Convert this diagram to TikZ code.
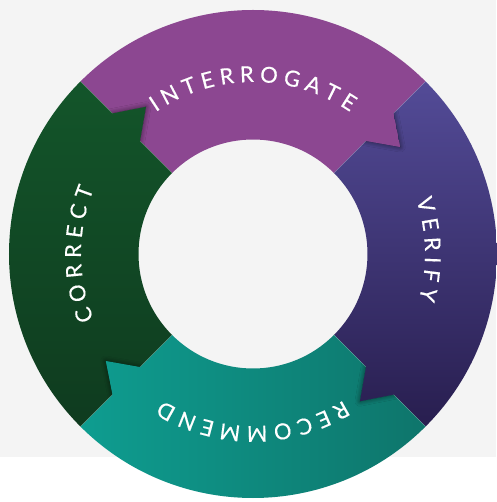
\documentclass[tikz,border=0pt]{standalone}
\usepackage{fontspec}
\newfontfamily\ringfont[FakeBold=0.4]{Lato}
\newcommand{\ringface}{\ringfont\fontsize{22}{24}\selectfont}
\usetikzlibrary{shadows.blur}
\usepackage{xcolor}

\definecolor{bggray}{HTML}{F4F4F4}
\definecolor{intcol}{HTML}{8C4791}
\definecolor{verlight}{HTML}{534B97}
\definecolor{verdark}{HTML}{281E4F}
\definecolor{reclight}{HTML}{0E9D90}
\definecolor{recdark}{HTML}{0E756B}
\definecolor{corlight}{HTML}{13552A}
\definecolor{cordark}{HTML}{0F3B1F}

% ring pieces: sector from angle #1 to #1+90, arrow head at angle #1
\newcommand{\sector}[1]{(#1:244) arc[start angle=#1, end angle=#1+90, radius=244]
  -- (#1+90:114.5) arc[start angle=#1+90, end angle=#1, radius=114.5] -- cycle}
\newcommand{\head}[1]{(#1+4:209) -- (#1+4.5:152) -- (#1-9:182) -- cycle}

% letters set clockwise round the ring, baseline at radius 172
\newdimen\letterwd
\newcommand{\track}{5.6}
\newcommand{\lw}[1]{\csname lw#1\endcsname}
\newcommand{\ringword}[3]{% #1 name, #2 middle angle, #3 letters
	\gdef\wordlen{0}
	\foreach \ch in {#3}{
		\pgfmathsetmacro{\tmplen}{\wordlen+\lw{\ch}+\track}
		\xdef\wordlen{\tmplen}}
	\pgfmathsetmacro{\tmpang}{#2+(\wordlen-\track)/2/172*180/pi}
	\xdef\wordang{\tmpang}
	\foreach \ch [count=\i] in {#3}{
		\pgfmathsetmacro{\letterang}{\wordang-(\lw{\ch}/2)/172*180/pi}
		\node[ringletter, rotate=\letterang-90] (#1\i) at (\letterang:172) {\ch};
		\pgfmathsetmacro{\tmpang}{\wordang-(\lw{\ch}+\track)/172*180/pi}
		\xdef\wordang{\tmpang}}
}

\tikzset{
  segint/.style={fill=intcol},
  segver/.style={top color=verlight, bottom color=verdark},
  segrec/.style={left color=reclight, right color=recdark},
  segcor/.style={top color=corlight, bottom color=cordark},
  headshadow/.style={blur shadow={shadow blur radius=5pt, shadow xshift=0pt,
      shadow yshift=0pt, shadow opacity=55, shadow blur steps=10}},
  ringletter/.style={anchor=base, inner sep=0pt, text=white, font=\ringface}
}

\begin{document}
\foreach \ch in {A,C,D,E,F,G,I,M,N,O,R,T,V,Y}{%
	\settowidth{\letterwd}{\ringface\ch}%
	\expandafter\xdef\csname lw\ch\endcsname{\the\letterwd}}%
\begin{tikzpicture}[x=1pt,y=1pt]
	\useasboundingbox (-253,-248) rectangle (243,254);
	\fill[white] (-253,-248) rectangle (243,254);
	\fill[bggray] (-253,-203) rectangle (243,254);
	
	\foreach \a/\seg in {45/segint,-45/segver,225/segrec,135/segcor}
	\path[\seg] \sector{\a};
	\foreach \a in {45,-45,225,135}
	\draw[white, opacity=.2, line width=.5pt] (\a:114.5) -- (\a:244);
	
	\foreach \a/\seg in {45/segint,-45/segver,225/segrec,135/segcor}{
		\begin{scope}
			\clip \sector{\a-90};
			\path[headshadow] \head{\a};
		\end{scope}
		\begin{scope}
			\clip \head{\a};
			\path[\seg] \sector{\a} (\a+4:209) -- (\a+4.5:152) -- (\a-9:182) -- cycle;
		\end{scope}
	}
	
	\ringword{int}{90}{I,N,T,E,R,R,O,G,A,T,E}
	\ringword{ver}{1.5}{V,E,R,I,F,Y}
	\ringword{rec}{-90}{R,E,C,O,M,M,E,N,D}
	\ringword{cor}{180}{C,O,R,R,E,C,T}
\end{tikzpicture}
\end{document}
